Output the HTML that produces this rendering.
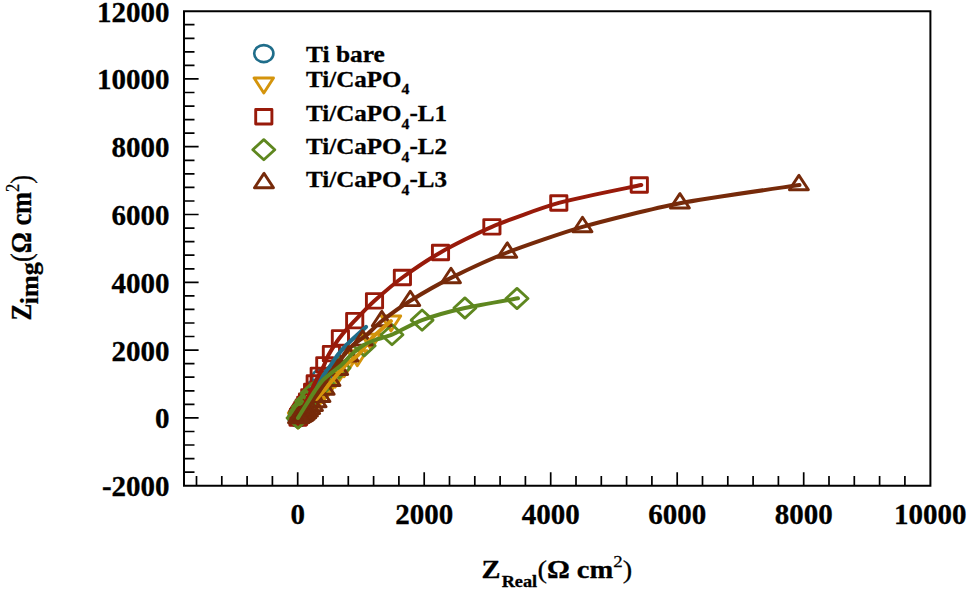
<!DOCTYPE html>
<html><head><meta charset="utf-8"><style>
html,body{margin:0;padding:0;background:#fff;overflow:hidden}
svg{display:block}
text{font-family:"Liberation Serif",serif;font-weight:bold;fill:#000;stroke:#000;stroke-width:0.3px}
.r{font-weight:normal;stroke-width:0.25px}
</style></head><body>
<svg width="968" height="590" viewBox="0 0 968 590">
<rect width="968" height="590" fill="#fff"/>
<ellipse cx="321.8" cy="377.7" rx="9.6" ry="8.5" fill="none" stroke="#1f6d8a" stroke-width="2.6"/><ellipse cx="316.5" cy="388.1" rx="9.6" ry="8.5" fill="none" stroke="#1f6d8a" stroke-width="2.6"/><ellipse cx="312.2" cy="395.8" rx="9.6" ry="8.5" fill="none" stroke="#1f6d8a" stroke-width="2.6"/><ellipse cx="308.7" cy="401.3" rx="9.6" ry="8.5" fill="none" stroke="#1f6d8a" stroke-width="2.6"/><ellipse cx="306.0" cy="405.5" rx="9.6" ry="8.5" fill="none" stroke="#1f6d8a" stroke-width="2.6"/><ellipse cx="304.0" cy="408.6" rx="9.6" ry="8.5" fill="none" stroke="#1f6d8a" stroke-width="2.6"/><ellipse cx="302.5" cy="411.0" rx="9.6" ry="8.5" fill="none" stroke="#1f6d8a" stroke-width="2.6"/><ellipse cx="301.4" cy="412.7" rx="9.6" ry="8.5" fill="none" stroke="#1f6d8a" stroke-width="2.6"/><ellipse cx="300.5" cy="414.1" rx="9.6" ry="8.5" fill="none" stroke="#1f6d8a" stroke-width="2.6"/><ellipse cx="299.9" cy="415.0" rx="9.6" ry="8.5" fill="none" stroke="#1f6d8a" stroke-width="2.6"/><ellipse cx="299.4" cy="415.8" rx="9.6" ry="8.5" fill="none" stroke="#1f6d8a" stroke-width="2.6"/><ellipse cx="299.1" cy="416.3" rx="9.6" ry="8.5" fill="none" stroke="#1f6d8a" stroke-width="2.6"/><ellipse cx="298.8" cy="416.8" rx="9.6" ry="8.5" fill="none" stroke="#1f6d8a" stroke-width="2.6"/><ellipse cx="298.6" cy="417.1" rx="9.6" ry="8.5" fill="none" stroke="#1f6d8a" stroke-width="2.6"/><ellipse cx="298.5" cy="417.3" rx="9.6" ry="8.5" fill="none" stroke="#1f6d8a" stroke-width="2.6"/><ellipse cx="298.0" cy="418.0" rx="9.6" ry="8.5" fill="none" stroke="#1f6d8a" stroke-width="2.6"/>
<path d="M381.3,316.0L400.7,316.0L391.0,331.0Z" fill="none" stroke="#d4940c" stroke-width="2.9" stroke-linejoin="round"/><path d="M361.3,334.1L380.7,334.1L371.0,349.1Z" fill="none" stroke="#d4940c" stroke-width="2.9" stroke-linejoin="round"/><path d="M347.6,350.7L367.0,350.7L357.3,365.7Z" fill="none" stroke="#d4940c" stroke-width="2.9" stroke-linejoin="round"/><path d="M334.4,361.7L353.8,361.7L344.1,376.7Z" fill="none" stroke="#d4940c" stroke-width="2.9" stroke-linejoin="round"/><path d="M325.4,372.1L344.8,372.1L335.1,387.1Z" fill="none" stroke="#d4940c" stroke-width="2.9" stroke-linejoin="round"/><path d="M318.3,380.6L337.7,380.6L328.0,395.6Z" fill="none" stroke="#d4940c" stroke-width="2.9" stroke-linejoin="round"/><path d="M312.7,387.4L332.1,387.4L322.4,402.4Z" fill="none" stroke="#d4940c" stroke-width="2.9" stroke-linejoin="round"/><path d="M308.0,392.8L327.4,392.8L317.7,407.8Z" fill="none" stroke="#d4940c" stroke-width="2.9" stroke-linejoin="round"/><path d="M304.2,396.9L323.6,396.9L313.9,411.9Z" fill="none" stroke="#d4940c" stroke-width="2.9" stroke-linejoin="round"/><path d="M301.1,400.2L320.5,400.2L310.8,415.2Z" fill="none" stroke="#d4940c" stroke-width="2.9" stroke-linejoin="round"/><path d="M298.5,402.8L317.9,402.8L308.2,417.8Z" fill="none" stroke="#d4940c" stroke-width="2.9" stroke-linejoin="round"/><path d="M296.5,404.8L315.9,404.8L306.2,419.8Z" fill="none" stroke="#d4940c" stroke-width="2.9" stroke-linejoin="round"/><path d="M294.9,406.5L314.3,406.5L304.6,421.5Z" fill="none" stroke="#d4940c" stroke-width="2.9" stroke-linejoin="round"/><path d="M293.6,407.8L313.0,407.8L303.3,422.8Z" fill="none" stroke="#d4940c" stroke-width="2.9" stroke-linejoin="round"/><path d="M292.5,408.8L311.9,408.8L302.2,423.8Z" fill="none" stroke="#d4940c" stroke-width="2.9" stroke-linejoin="round"/><path d="M291.7,409.7L311.1,409.7L301.4,424.7Z" fill="none" stroke="#d4940c" stroke-width="2.9" stroke-linejoin="round"/><path d="M291.0,410.3L310.4,410.3L300.7,425.3Z" fill="none" stroke="#d4940c" stroke-width="2.9" stroke-linejoin="round"/><path d="M290.5,410.9L309.9,410.9L300.2,425.9Z" fill="none" stroke="#d4940c" stroke-width="2.9" stroke-linejoin="round"/><path d="M290.0,411.3L309.4,411.3L299.7,426.3Z" fill="none" stroke="#d4940c" stroke-width="2.9" stroke-linejoin="round"/><path d="M289.7,411.6L309.1,411.6L299.4,426.6Z" fill="none" stroke="#d4940c" stroke-width="2.9" stroke-linejoin="round"/><path d="M289.4,411.9L308.8,411.9L299.1,426.9Z" fill="none" stroke="#d4940c" stroke-width="2.9" stroke-linejoin="round"/><path d="M289.2,412.1L308.6,412.1L298.9,427.1Z" fill="none" stroke="#d4940c" stroke-width="2.9" stroke-linejoin="round"/><path d="M289.0,412.3L308.4,412.3L298.7,427.3Z" fill="none" stroke="#d4940c" stroke-width="2.9" stroke-linejoin="round"/><path d="M288.3,413.0L307.7,413.0L298.0,428.0Z" fill="none" stroke="#d4940c" stroke-width="2.9" stroke-linejoin="round"/>
<rect x="631.2" y="177.7" width="16.2" height="14.5" fill="none" stroke="#981a0a" stroke-width="2.9" stroke-linejoin="round"/><rect x="550.7" y="195.7" width="16.2" height="14.5" fill="none" stroke="#981a0a" stroke-width="2.9" stroke-linejoin="round"/><rect x="483.8" y="219.6" width="16.2" height="14.5" fill="none" stroke="#981a0a" stroke-width="2.9" stroke-linejoin="round"/><rect x="432.4" y="245.2" width="16.2" height="14.5" fill="none" stroke="#981a0a" stroke-width="2.9" stroke-linejoin="round"/><rect x="394.3" y="270.2" width="16.2" height="14.5" fill="none" stroke="#981a0a" stroke-width="2.9" stroke-linejoin="round"/><rect x="366.4" y="293.6" width="16.2" height="14.5" fill="none" stroke="#981a0a" stroke-width="2.9" stroke-linejoin="round"/><rect x="346.6" y="313.4" width="16.2" height="14.5" fill="none" stroke="#981a0a" stroke-width="2.9" stroke-linejoin="round"/><rect x="332.3" y="330.6" width="16.2" height="14.5" fill="none" stroke="#981a0a" stroke-width="2.9" stroke-linejoin="round"/><rect x="323.3" y="346.4" width="16.2" height="14.5" fill="none" stroke="#981a0a" stroke-width="2.9" stroke-linejoin="round"/><rect x="316.7" y="357.6" width="16.2" height="14.5" fill="none" stroke="#981a0a" stroke-width="2.9" stroke-linejoin="round"/><rect x="311.1" y="368.1" width="16.2" height="14.5" fill="none" stroke="#981a0a" stroke-width="2.9" stroke-linejoin="round"/><rect x="307.1" y="375.8" width="16.2" height="14.5" fill="none" stroke="#981a0a" stroke-width="2.9" stroke-linejoin="round"/><rect x="304.5" y="384.2" width="16.2" height="14.5" fill="none" stroke="#981a0a" stroke-width="2.9" stroke-linejoin="round"/><rect x="301.7" y="389.6" width="16.2" height="14.5" fill="none" stroke="#981a0a" stroke-width="2.9" stroke-linejoin="round"/><rect x="299.4" y="393.9" width="16.2" height="14.5" fill="none" stroke="#981a0a" stroke-width="2.9" stroke-linejoin="round"/><rect x="297.6" y="397.3" width="16.2" height="14.5" fill="none" stroke="#981a0a" stroke-width="2.9" stroke-linejoin="round"/><rect x="296.1" y="400.0" width="16.2" height="14.5" fill="none" stroke="#981a0a" stroke-width="2.9" stroke-linejoin="round"/><rect x="294.8" y="402.2" width="16.2" height="14.5" fill="none" stroke="#981a0a" stroke-width="2.9" stroke-linejoin="round"/><rect x="293.9" y="403.9" width="16.2" height="14.5" fill="none" stroke="#981a0a" stroke-width="2.9" stroke-linejoin="round"/><rect x="293.1" y="405.3" width="16.2" height="14.5" fill="none" stroke="#981a0a" stroke-width="2.9" stroke-linejoin="round"/><rect x="292.4" y="406.4" width="16.2" height="14.5" fill="none" stroke="#981a0a" stroke-width="2.9" stroke-linejoin="round"/><rect x="291.9" y="407.2" width="16.2" height="14.5" fill="none" stroke="#981a0a" stroke-width="2.9" stroke-linejoin="round"/><rect x="291.5" y="407.9" width="16.2" height="14.5" fill="none" stroke="#981a0a" stroke-width="2.9" stroke-linejoin="round"/><rect x="291.2" y="408.5" width="16.2" height="14.5" fill="none" stroke="#981a0a" stroke-width="2.9" stroke-linejoin="round"/><rect x="290.9" y="408.9" width="16.2" height="14.5" fill="none" stroke="#981a0a" stroke-width="2.9" stroke-linejoin="round"/><rect x="290.7" y="409.3" width="16.2" height="14.5" fill="none" stroke="#981a0a" stroke-width="2.9" stroke-linejoin="round"/><rect x="290.6" y="409.6" width="16.2" height="14.5" fill="none" stroke="#981a0a" stroke-width="2.9" stroke-linejoin="round"/><rect x="290.4" y="409.8" width="16.2" height="14.5" fill="none" stroke="#981a0a" stroke-width="2.9" stroke-linejoin="round"/><rect x="290.3" y="410.0" width="16.2" height="14.5" fill="none" stroke="#981a0a" stroke-width="2.9" stroke-linejoin="round"/><rect x="289.9" y="410.8" width="16.2" height="14.5" fill="none" stroke="#981a0a" stroke-width="2.9" stroke-linejoin="round"/>
<path d="M506.0,298.5L517.0,288.4L528.0,298.5L517.0,308.6Z" fill="none" stroke="#5e871f" stroke-width="2.8" stroke-linejoin="round"/><path d="M453.9,308.0L464.9,297.9L475.9,308.0L464.9,318.1Z" fill="none" stroke="#5e871f" stroke-width="2.8" stroke-linejoin="round"/><path d="M411.1,320.1L422.1,310.0L433.1,320.1L422.1,330.2Z" fill="none" stroke="#5e871f" stroke-width="2.8" stroke-linejoin="round"/><path d="M381.0,334.7L392.0,324.6L403.0,334.7L392.0,344.8Z" fill="none" stroke="#5e871f" stroke-width="2.8" stroke-linejoin="round"/><path d="M353.2,345.8L364.2,335.7L375.2,345.8L364.2,355.9Z" fill="none" stroke="#5e871f" stroke-width="2.8" stroke-linejoin="round"/><path d="M328.0,368.0L339.0,357.9L350.0,368.0L339.0,378.1Z" fill="none" stroke="#5e871f" stroke-width="2.8" stroke-linejoin="round"/><path d="M312.2,383.8L323.2,373.7L334.2,383.8L323.2,393.9Z" fill="none" stroke="#5e871f" stroke-width="2.8" stroke-linejoin="round"/><path d="M301.0,393.2L312.0,383.1L323.0,393.2L312.0,403.3Z" fill="none" stroke="#5e871f" stroke-width="2.8" stroke-linejoin="round"/><path d="M295.6,401.3L306.6,391.2L317.6,401.3L306.6,411.4Z" fill="none" stroke="#5e871f" stroke-width="2.8" stroke-linejoin="round"/><path d="M292.5,406.8L303.5,396.7L314.5,406.8L303.5,416.9Z" fill="none" stroke="#5e871f" stroke-width="2.8" stroke-linejoin="round"/><path d="M290.6,410.6L301.6,400.5L312.6,410.6L301.6,420.7Z" fill="none" stroke="#5e871f" stroke-width="2.8" stroke-linejoin="round"/><path d="M289.3,413.1L300.3,403.0L311.3,413.1L300.3,423.2Z" fill="none" stroke="#5e871f" stroke-width="2.8" stroke-linejoin="round"/><path d="M287.0,418.0L298.0,407.9L309.0,418.0L298.0,428.1Z" fill="none" stroke="#5e871f" stroke-width="2.8" stroke-linejoin="round"/>
<path d="M366.0,327.0 C364.8,328.1 357.8,334.4 355.5,336.5 C353.2,338.6 348.6,342.8 346.5,345.0 C344.4,347.2 339.5,352.7 337.7,355.0 C335.9,357.3 332.9,362.2 331.0,365.0 C329.1,367.8 322.9,376.0 321.0,379.0 C319.1,382.0 316.6,388.1 315.0,391.0 C313.4,393.9 309.0,400.9 307.0,404.0 C305.0,407.1 299.1,416.4 298.0,418.0" fill="none" stroke="#1f6d8a" stroke-width="4.3" stroke-linecap="round" stroke-linejoin="round"/>
<path d="M641.3,185.0 C631.7,187.1 576.2,198.0 558.8,202.9 C541.4,207.8 505.7,221.0 491.9,226.8 C478.1,232.6 450.9,246.5 440.5,252.4 C430.1,258.3 410.1,271.9 402.4,277.5 C394.7,283.1 380.1,295.8 374.5,300.8 C368.9,305.8 358.8,316.4 354.7,320.7 C350.6,325.0 342.6,334.0 339.5,338.0 C336.4,342.0 330.4,351.7 328.5,355.0 C326.6,358.3 324.9,363.7 323.5,366.5 C322.1,369.3 318.3,376.1 316.8,379.0 C315.3,381.9 312.4,388.1 311.0,391.0 C309.6,393.9 306.5,400.9 305.0,404.0 C303.5,407.1 298.8,416.4 298.0,418.0" fill="none" stroke="#981a0a" stroke-width="4.0" stroke-linecap="round" stroke-linejoin="round"/>
<path d="M789.4,189.8L808.4,189.8L798.9,175.4Z" fill="none" stroke="#762a0a" stroke-width="2.9" stroke-linejoin="round"/><path d="M670.4,208.0L689.4,208.0L679.9,193.6Z" fill="none" stroke="#762a0a" stroke-width="2.9" stroke-linejoin="round"/><path d="M573.0,231.7L592.0,231.7L582.5,217.3Z" fill="none" stroke="#762a0a" stroke-width="2.9" stroke-linejoin="round"/><path d="M497.8,257.3L516.8,257.3L507.3,242.9Z" fill="none" stroke="#762a0a" stroke-width="2.9" stroke-linejoin="round"/><path d="M441.5,282.7L460.5,282.7L451.0,268.3Z" fill="none" stroke="#762a0a" stroke-width="2.9" stroke-linejoin="round"/><path d="M400.8,305.6L419.8,305.6L410.3,291.2Z" fill="none" stroke="#762a0a" stroke-width="2.9" stroke-linejoin="round"/><path d="M372.3,325.8L391.3,325.8L381.8,311.4Z" fill="none" stroke="#762a0a" stroke-width="2.9" stroke-linejoin="round"/><path d="M353.2,345.1L372.2,345.1L362.7,330.7Z" fill="none" stroke="#762a0a" stroke-width="2.9" stroke-linejoin="round"/><path d="M339.0,361.1L358.0,361.1L348.5,346.7Z" fill="none" stroke="#762a0a" stroke-width="2.9" stroke-linejoin="round"/><path d="M328.7,374.5L347.7,374.5L338.2,360.1Z" fill="none" stroke="#762a0a" stroke-width="2.9" stroke-linejoin="round"/><path d="M321.0,385.5L340.0,385.5L330.5,371.1Z" fill="none" stroke="#762a0a" stroke-width="2.9" stroke-linejoin="round"/><path d="M315.2,394.3L334.2,394.3L324.7,379.9Z" fill="none" stroke="#762a0a" stroke-width="2.9" stroke-linejoin="round"/><path d="M311.0,401.5L330.0,401.5L320.5,387.1Z" fill="none" stroke="#762a0a" stroke-width="2.9" stroke-linejoin="round"/><path d="M307.1,406.8L326.1,406.8L316.6,392.4Z" fill="none" stroke="#762a0a" stroke-width="2.9" stroke-linejoin="round"/><path d="M303.5,410.6L322.5,410.6L313.0,396.2Z" fill="none" stroke="#762a0a" stroke-width="2.9" stroke-linejoin="round"/><path d="M300.7,413.6L319.7,413.6L310.2,399.2Z" fill="none" stroke="#762a0a" stroke-width="2.9" stroke-linejoin="round"/><path d="M298.5,416.0L317.5,416.0L308.0,401.6Z" fill="none" stroke="#762a0a" stroke-width="2.9" stroke-linejoin="round"/><path d="M296.7,417.9L315.7,417.9L306.2,403.5Z" fill="none" stroke="#762a0a" stroke-width="2.9" stroke-linejoin="round"/><path d="M295.2,419.2L314.2,419.2L304.7,404.8Z" fill="none" stroke="#762a0a" stroke-width="2.9" stroke-linejoin="round"/><path d="M293.9,420.2L312.9,420.2L303.4,405.8Z" fill="none" stroke="#762a0a" stroke-width="2.9" stroke-linejoin="round"/><path d="M292.9,420.9L311.9,420.9L302.4,406.5Z" fill="none" stroke="#762a0a" stroke-width="2.9" stroke-linejoin="round"/><path d="M292.0,421.3L311.0,421.3L301.5,406.9Z" fill="none" stroke="#762a0a" stroke-width="2.9" stroke-linejoin="round"/><path d="M291.2,421.7L310.2,421.7L300.7,407.3Z" fill="none" stroke="#762a0a" stroke-width="2.9" stroke-linejoin="round"/><path d="M290.7,421.9L309.7,421.9L300.2,407.5Z" fill="none" stroke="#762a0a" stroke-width="2.9" stroke-linejoin="round"/><path d="M290.2,422.1L309.2,422.1L299.7,407.7Z" fill="none" stroke="#762a0a" stroke-width="2.9" stroke-linejoin="round"/><path d="M289.9,422.2L308.9,422.2L299.4,407.8Z" fill="none" stroke="#762a0a" stroke-width="2.9" stroke-linejoin="round"/><path d="M289.6,422.3L308.6,422.3L299.1,407.9Z" fill="none" stroke="#762a0a" stroke-width="2.9" stroke-linejoin="round"/><path d="M289.3,422.4L308.3,422.4L298.8,408.0Z" fill="none" stroke="#762a0a" stroke-width="2.9" stroke-linejoin="round"/><path d="M288.5,422.8L307.5,422.8L298.0,408.4Z" fill="none" stroke="#762a0a" stroke-width="2.9" stroke-linejoin="round"/>
<path d="M391.0,321.0 C388.8,323.0 375.9,334.0 372.0,338.0 C368.1,342.0 361.1,351.9 358.0,355.0 C354.9,358.1 348.6,362.2 345.7,365.0 C342.8,367.8 336.1,376.0 333.5,379.0 C330.9,382.0 325.6,388.7 323.6,391.0 C321.6,393.3 317.4,398.1 316.6,399.0" fill="none" stroke="#d4940c" stroke-width="4.0" stroke-linecap="round" stroke-linejoin="round"/>
<path d="M799.5,185.0 C785.5,187.1 705.2,198.3 679.9,203.2 C654.6,208.1 602.6,221.1 582.5,226.9 C562.4,232.7 522.6,246.6 507.3,252.5 C492.0,258.4 462.3,272.3 451.0,277.9 C439.7,283.5 418.4,295.8 410.3,300.8 C402.2,305.8 387.0,317.0 381.8,321.0 C376.6,325.0 369.4,332.7 366.0,335.5 C362.6,338.3 355.5,342.7 353.0,345.0 C350.5,347.3 346.1,352.7 344.2,355.0 C342.3,357.3 339.0,362.2 337.0,365.0 C335.0,367.8 329.3,376.0 327.3,379.0 C325.3,382.0 321.6,388.0 319.5,391.0 C317.4,394.0 311.5,401.9 309.0,405.0 C306.5,408.1 299.3,416.5 298.0,418.0" fill="none" stroke="#762a0a" stroke-width="4.0" stroke-linecap="round" stroke-linejoin="round"/>
<path d="M518.0,298.3 C511.8,299.4 476.1,305.5 464.9,308.0 C453.7,310.5 430.6,317.0 422.1,320.1 C413.6,323.2 397.5,332.4 392.0,334.7 C386.5,337.0 378.4,338.7 375.0,340.0 C371.6,341.3 365.8,343.8 363.0,345.5 C360.2,347.2 353.5,352.7 351.0,355.0 C348.5,357.3 344.6,362.2 341.5,365.0 C338.4,367.8 327.1,376.0 324.0,379.0 C320.9,382.0 316.9,388.0 314.8,391.0 C312.7,394.0 308.0,401.9 306.0,405.0 C304.0,408.1 298.9,416.5 298.0,418.0" fill="none" stroke="#5e871f" stroke-width="4.0" stroke-linecap="round" stroke-linejoin="round"/>
<path d="M184.0,11.2H930.4V485.7H184.0Z" fill="none" stroke="#000" stroke-width="2"/>
<path d="M196.5,485.7V476.1M221.8,485.7V476.1M247.1,485.7V476.1M272.4,485.7V476.1M297.7,485.7V472.3M323.0,485.7V476.1M348.3,485.7V476.1M373.6,485.7V476.1M398.9,485.7V476.1M424.2,485.7V472.3M449.5,485.7V476.1M474.8,485.7V476.1M500.1,485.7V476.1M525.4,485.7V476.1M550.7,485.7V472.3M576.0,485.7V476.1M601.3,485.7V476.1M626.6,485.7V476.1M651.9,485.7V476.1M677.2,485.7V472.3M702.5,485.7V476.1M727.8,485.7V476.1M753.1,485.7V476.1M778.4,485.7V476.1M803.7,485.7V472.3M829.0,485.7V476.1M854.3,485.7V476.1M879.6,485.7V476.1M904.9,485.7V476.1M184.0,472.1H194.5M184.0,458.6H194.5M184.0,445.0H194.5M184.0,431.5H194.5M184.0,417.9H198.6M184.0,404.3H194.5M184.0,390.8H194.5M184.0,377.2H194.5M184.0,363.7H194.5M184.0,350.1H198.6M184.0,336.5H194.5M184.0,323.0H194.5M184.0,309.4H194.5M184.0,295.9H194.5M184.0,282.3H198.6M184.0,268.8H194.5M184.0,255.2H194.5M184.0,241.6H194.5M184.0,228.1H194.5M184.0,214.5H198.6M184.0,201.0H194.5M184.0,187.4H194.5M184.0,173.8H194.5M184.0,160.3H194.5M184.0,146.7H198.6M184.0,133.2H194.5M184.0,119.6H194.5M184.0,106.1H194.5M184.0,92.5H194.5M184.0,78.9H198.6M184.0,65.4H194.5M184.0,51.8H194.5M184.0,38.3H194.5M184.0,24.7H194.5" stroke="#000" stroke-width="1.7" fill="none"/>
<text x="169.6" y="496.2" font-size="29" text-anchor="end">-2000</text>
<text x="169.6" y="428.4" font-size="29" text-anchor="end">0</text>
<text x="169.6" y="360.6" font-size="29" text-anchor="end">2000</text>
<text x="169.6" y="292.8" font-size="29" text-anchor="end">4000</text>
<text x="169.6" y="225.0" font-size="29" text-anchor="end">6000</text>
<text x="169.6" y="157.2" font-size="29" text-anchor="end">8000</text>
<text x="169.6" y="89.4" font-size="29" text-anchor="end">10000</text>
<text x="169.6" y="21.6" font-size="29" text-anchor="end">12000</text>
<text x="297.7" y="524" font-size="29" text-anchor="middle">0</text>
<text x="424.2" y="524" font-size="29" text-anchor="middle">2000</text>
<text x="550.7" y="524" font-size="29" text-anchor="middle">4000</text>
<text x="677.2" y="524" font-size="29" text-anchor="middle">6000</text>
<text x="803.7" y="524" font-size="29" text-anchor="middle">8000</text>
<text x="930.2" y="524" font-size="29" text-anchor="middle">10000</text>
<text font-size="25" transform="translate(481.5,578) scale(1.14,1)">Z<tspan font-size="16" dy="8.5" dx="1">Real</tspan><tspan dy="-8.5" dx="0.3" class="r">(</tspan>Ω cm<tspan font-size="16.5" dy="-11" class="r">2</tspan><tspan dy="11" class="r">)</tspan></text>
<text font-size="26" transform="translate(31.2,320.6) rotate(-90) scale(0.97,1.12)">Z</text>
<text font-size="26" transform="translate(38.2,304.2) rotate(-90) scale(1,0.96)">img</text>
<text font-size="27" transform="translate(31.4,262.0) rotate(-90) scale(0.975,1.07)"><tspan class="r">(</tspan>Ω cm<tspan font-size="17" dy="-11.5" class="r">2</tspan><tspan dy="11.5" class="r">)</tspan></text>
<ellipse cx="263.8" cy="53.6" rx="9.6" ry="8.5" fill="none" stroke="#1f6d8a" stroke-width="2.6"/>
<text font-size="23" transform="translate(306,61.7) scale(1.105,1)">Ti bare</text>
<path d="M254.1,78.0L273.5,78.0L263.8,93.0Z" fill="none" stroke="#d4940c" stroke-width="2.9" stroke-linejoin="round"/>
<text font-size="23" transform="translate(306,86.8) scale(1.090,1)">Ti/CaPO<tspan font-size="14.5" dy="7.6">4</tspan></text>
<rect x="255.7" y="109.5" width="16.2" height="14.5" fill="none" stroke="#981a0a" stroke-width="2.9" stroke-linejoin="round"/>
<text font-size="23" transform="translate(306,121.2) scale(1.090,1)">Ti/CaPO<tspan font-size="14.5" dy="7.6">4</tspan><tspan dy="-7.6">-L1</tspan></text>
<path d="M252.8,149.7L263.8,139.6L274.8,149.7L263.8,159.8Z" fill="none" stroke="#5e871f" stroke-width="2.8" stroke-linejoin="round"/>
<text font-size="23" transform="translate(306,153.9) scale(1.090,1)">Ti/CaPO<tspan font-size="14.5" dy="7.6">4</tspan><tspan dy="-7.6">-L2</tspan></text>
<path d="M254.5,187.8L273.5,187.8L264.0,173.4Z" fill="none" stroke="#762a0a" stroke-width="2.9" stroke-linejoin="round"/>
<text font-size="23" transform="translate(306,187.3) scale(1.090,1)">Ti/CaPO<tspan font-size="14.5" dy="7.6">4</tspan><tspan dy="-7.6">-L3</tspan></text>
</svg></body></html>
